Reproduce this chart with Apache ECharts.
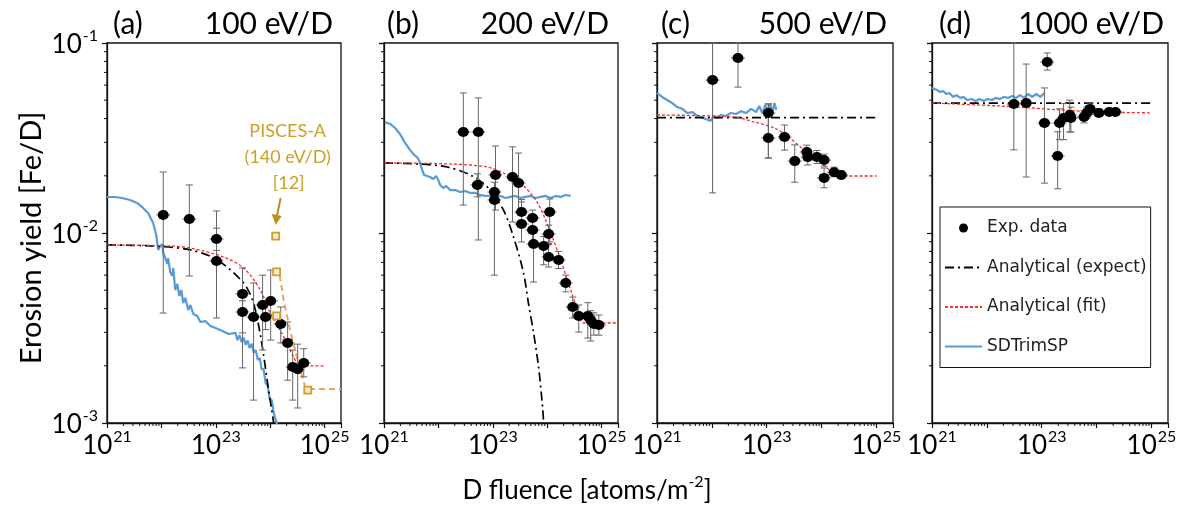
<!DOCTYPE html>
<html><head><meta charset="utf-8">
<script src="https://cdn.jsdelivr.net/npm/echarts@6/dist/echarts.min.js"></script>
<style>html,body{margin:0;padding:0;background:#fff}#c{width:1192px;height:513px}</style>
</head><body><div id="c"></div>
<script>
// ---------- text ----------
const panelLabels = ['(a)', '(b)', '(c)', '(d)'];
const panelEnergies = ['100 eV/D', '200 eV/D', '500 eV/D', '1000 eV/D'];
const xTickExponents = [21, 23, 25];
const yTickExponents = [-3, -2, -1];
const xTitle = 'D fluence [atoms/m';
const yTitle = 'Erosion yield [Fe/D]';
const legendNames = ['Exp. data', 'Analytical (expect)', 'Analytical (fit)', 'SDTrimSP'];
const piscesText = ['PISCES-A', '(140 eV/D)', '[12]'];

// ---------- panel (a) 100 eV/D ----------
const sdA_X = [1e21,1.41e21,1.89e21,2.66e21,3.57e21,4.61e21,5.7e21,7.06e21,8.02e21,8.73e21,9.5e21,1.035e22,1.08e22,1.175e22,1.28e22,1.33e22,1.45e22,1.58e22,1.65e22,1.8e22,1.96e22,2.13e22,2.32e22,2.52e22,2.75e22,3.12e22,3.4e22,3.86e22,4.57e22,5.2e22,6.43e22,7.94e22,9.84e22,1.32e23,1.71e23,2.3e23,2.5e23,2.72e23,2.97e23,3.23e23,3.52e23,3.84e23,4.18e23,4.56e23,4.97e23,5.42e23,5.9e23,6.43e23,6.94e23,7.56e23,8.24e23,8.96e23,9.77e23,1.065e24,1.16e24,1.26e24,1.37e24];
const sdA_Y = [0.01547,0.01547,0.01528,0.01492,0.01439,0.01355,0.01274,0.01129,0.00976,0.00814,0.00855,0.00875,0.00785,0.00738,0.00687,0.00738,0.00624,0.00594,0.00655,0.00501,0.0054,0.00466,0.00501,0.00428,0.00455,0.00393,0.00418,0.00375,0.00366,0.0034,0.00344,0.00324,0.00316,0.00305,0.00294,0.00298,0.00273,0.0029,0.00267,0.00282,0.00258,0.00272,0.00248,0.00261,0.00235,0.00242,0.00215,0.0022,0.00192,0.00192,0.00162,0.00158,0.00134,0.00132,0.00113,0.00111,0.00096];
const expectA_X = [1e21,6.2e21,3.4e22,1.07e23,3.24e23,4.73e23,6.1e23,7.55e23,9.34e23,1.16e24];
const expectA_Y = [0.00865,0.00855,0.00815,0.00721,0.00546,0.00443,0.00328,0.00228,0.00149,0.001];
const fitA_X = [1e21,1.45e22,3.4e22,1.38e23,3.24e23,6.6e23,1e24,1.77e24,2.7e24,3.6e24,1e25];
const fitA_Y = [0.00865,0.00855,0.00834,0.00748,0.00655,0.00501,0.00379,0.00284,0.00222,0.002,0.002];
const expA_X = [1.08e22,3.26e22,1.03e23,1.03e23,3.1e23,3.1e23,4.94e23,7.24e23,1.02e24,8.2e23,1.56e24,2.09e24,2.59e24,3.2e24,4.13e24];
const expA_Y = [0.01245,0.01186,0.00929,0.00713,0.00478,0.00384,0.00361,0.00418,0.00439,0.00361,0.00332,0.00264,0.00197,0.00192,0.00207];
const expA_Lo = [0.00379,0.00594,0.0081,0.00357,0.00195,0.00298,0.00132,0.00242,0.00273,0.0031,0.00264,0.00168,0.00132,0.0012,0.00175];
const expA_Hi = [0.02094,0.0179,0.01306,0.0106,0.00655,0.0044,0.00546,0.006,0.00638,0.0044,0.00408,0.0034,0.00242,0.0026,0.00246];
const piscesX = [1.26e24,1.31e24,1.31e24,4.9e24];
const piscesY = [0.00964,0.00624,0.00366,0.00149];
const piscesLineX = [1.49e24,1.77e24,2.38e24,3.2e24,4.5e24,2e25];
const piscesLineY = [0.006,0.00443,0.00298,0.00215,0.00151,0.00151];

// ---------- panel (b) 200 eV/D ----------
const sdB_X = [1.04e21,1.29e21,1.6e21,1.97e21,2.44e21,3.02e21,3.58e21,4.06e21,4.61e21,5.02e21,5.47e21,6.21e21,7.06e21,8.02e21,9.1e21,9.91e21,1.08e22,1.23e22,1.39e22,1.65e22,2.04e22,2.52e22,3.12e22,3.86e22,4.77e22,5.9e22,7.3e22,9.0e22,1.12e23,1.38e23,1.71e23,2.11e23,2.61e23,3.23e23,3.99e23,4.94e23,6.1e23,7.55e23,9.33e23,1.16e24,1.43e24,1.77e24,2.18e24,2.7e24];
const sdB_Y = [0.0384,0.0375,0.0357,0.0332,0.0298,0.0273,0.0258,0.0251,0.0234,0.0215,0.0202,0.01995,0.01971,0.01923,0.01995,0.019,0.0179,0.01725,0.01767,0.01683,0.01683,0.01643,0.01663,0.01625,0.01625,0.01585,0.01567,0.01567,0.01548,0.01567,0.01528,0.01548,0.01567,0.01528,0.01548,0.01567,0.01528,0.01548,0.01567,0.01528,0.01567,0.01548,0.01585,0.01567];
const expectB_X = [1e21,4.6e21,1.45e22,3.86e22,7.94e22,1.57e23,2.4e23,3.67e23,4.54e23,5.62e23,6.94e23,8.22e23,8.6e23];
const expectB_Y = [0.0234,0.02305,0.02225,0.0202,0.01746,0.0132,0.00953,0.00617,0.00423,0.00298,0.00197,0.00121,0.001];
const fitB_X = [1e21,1.88e22,7.94e22,1.57e23,3.24e23,6.65e23,1.16e24,1.77e24,2.7e24,3.63e24,4.68e24,2e25];
const fitB_Y = [0.0234,0.02305,0.02225,0.0207,0.01833,0.0144,0.01,0.00721,0.00501,0.00393,0.00336,0.00336];
const expB_X = [2.87e22,5.42e22,5.2e22,1.12e23,1.07e23,1.07e23,2.3e23,2.97e23,3.37e23,3.37e23,5.38e23,5.38e23,5.61e23,1.11e24,1.06e24,8.59e23,1.06e24,1.62e24,2.19e24,2.94e24,3.8e24,5.56e24,6.3e24,7.2e24,8.9e24];
const expB_Y = [0.034,0.034,0.0179,0.0202,0.01643,0.01492,0.0197,0.01833,0.01291,0.01115,0.012,0.01038,0.00875,0.01291,0.00988,0.00855,0.00748,0.00721,0.00546,0.00408,0.00366,0.00366,0.00348,0.00332,0.00328];
const expB_Lo = [0.01403,0.00919,0.0155,0.0132,0.015,0.006,0.01143,0.0128,0.0111,0.00897,0.0104,0.009,0.00552,0.00897,0.0088,0.0068,0.00662,0.0065,0.0049,0.00357,0.00301,0.0028,0.0027,0.0029,0.0029];
const expB_Hi = [0.0546,0.0514,0.0205,0.0287,0.0185,0.017,0.0284,0.02636,0.015,0.01456,0.0132,0.0115,0.0101,0.0151,0.011,0.0096,0.0087,0.008,0.006,0.0046,0.00418,0.0043,0.0039,0.0038,0.0037];

// ---------- panel (c) 500 eV/D ----------
const sdC_X = [1e21,1.24e21,1.53e21,1.89e21,2.34e21,2.89e21,3.58e21,4.43e21,5.47e21,6.21e21,7.69e21,9.5e21,1.08e22,1.28e22,1.45e22,1.8e22,2.22e22,2.75e22,3.4e22,4.21e22,5.2e22,6.43e22,7.3e22,8.3e22,9.42e22,1.07e23,1.16e23,1.27e23,1.38e23,1.5e23];
const sdC_Y = [0.0546,0.052,0.0501,0.0483,0.046,0.045,0.0428,0.0433,0.0413,0.0408,0.0398,0.0389,0.0413,0.0403,0.0418,0.0413,0.0428,0.0423,0.0438,0.0428,0.045,0.0433,0.0466,0.0428,0.0472,0.0433,0.0477,0.0428,0.0483,0.0444];
const expectC_X = [1e21,1e25];
const expectC_Y = [0.0405,0.0405];
const fitC_X = [1e21,2.5e22,5.9e22,1.38e23,2.5e23,4.35e23,7.55e23,1.37e24,2.38e24,1e25];
const fitC_Y = [0.0418,0.0408,0.0384,0.0357,0.032,0.028,0.0251,0.0215,0.01995,0.01995];
const expC_X = [1.03e22,2.99e22,1.07e23,1.07e23,2.11e23,3.24e23,5.37e23,5.6e23,8.2e23,1.11e24,1.11e24,1.69e24,2.28e24];
const expC_Y = [0.0638,0.0834,0.0428,0.0316,0.032,0.0239,0.0267,0.0251,0.0251,0.0242,0.0195,0.0209,0.0202];
const expC_Lo = [0.01626,0.0586,0.0248,0.0248,0.0273,0.0185,0.024,0.0228,0.0232,0.0225,0.0173,0.0198,0.0193];
const expC_Hi = [0.1,0.1,0.0478,0.0478,0.037,0.0291,0.029,0.0275,0.0272,0.026,0.022,0.0222,0.0212];

// ---------- panel (d) 1000 eV/D ----------
const sdD_X = [1e21,1.24e21,1.41e21,1.6e21,1.81e21,2.06e21,2.44e21,2.77e21,3.29e21,3.73e21,4.43e21,5.25e21,6.21e21,7.36e21,8.73e21,1.035e22,1.23e22,1.45e22,1.72e22,2.04e22,2.42e22,2.87e22,3.4e22,4.03e22,4.77e22,5.66e22,6.71e22,7.95e22,9.42e22,1.12e23];
const sdD_Y = [0.058,0.0566,0.0552,0.0559,0.0539,0.0546,0.052,0.0532,0.0514,0.052,0.0501,0.0507,0.0495,0.0507,0.0495,0.0507,0.0501,0.0514,0.0507,0.052,0.0514,0.0526,0.0514,0.0532,0.0514,0.0539,0.052,0.0539,0.052,0.0546];
const expectD_X = [1e21,1e25];
const expectD_Y = [0.0483,0.0483];
const fitD_X = [1e21,1.78e22,2.3e23,1.26e24,1e25];
const fitD_Y = [0.0483,0.0466,0.0444,0.0433,0.0429];
const expD_X = [3.1e22,5.2e22,1.26e23,1.12e23,1.95e23,2.11e23,2.5e23,3.24e23,3.4e23,5.9e23,6.6e23,7.6e23,1.1e24,1.7e24,2.2e24];
const expD_Y = [0.0477,0.0483,0.0794,0.0379,0.0254,0.0379,0.0403,0.0418,0.0403,0.0408,0.0428,0.045,0.0428,0.0433,0.0433];
const expD_Lo = [0.0274,0.0197,0.072,0.0183,0.0171,0.031,0.031,0.034,0.034,0.038,0.04,0.042,0.041,0.042,0.042];
const expD_Hi = [0.1,0.0775,0.0886,0.058,0.0341,0.045,0.048,0.05,0.046,0.044,0.046,0.0483,0.045,0.045,0.045];

// ---------- axis ranges ----------
const X_MIN = 1e21, X_MAX = 2e25, Y_MIN = 1e-3, Y_MAX = 1e-1;

// ---------- build ----------
const panels = [
  {sdX: sdA_X, sdY: sdA_Y, exX: expectA_X, exY: expectA_Y, fX: fitA_X, fY: fitA_Y, pX: expA_X, pY: expA_Y, lo: expA_Lo, hi: expA_Hi},
  {sdX: sdB_X, sdY: sdB_Y, exX: expectB_X, exY: expectB_Y, fX: fitB_X, fY: fitB_Y, pX: expB_X, pY: expB_Y, lo: expB_Lo, hi: expB_Hi},
  {sdX: sdC_X, sdY: sdC_Y, exX: expectC_X, exY: expectC_Y, fX: fitC_X, fY: fitC_Y, pX: expC_X, pY: expC_Y, lo: expC_Lo, hi: expC_Hi},
  {sdX: sdD_X, sdY: sdD_Y, exX: expectD_X, exY: expectD_Y, fX: fitD_X, fY: fitD_Y, pX: expD_X, pY: expD_Y, lo: expD_Lo, hi: expD_Hi}
];
const gridLeft = [107, 384, 657, 932];
const gridWidth = [234, 234, 236, 236];

const xMinor = [];
for (let e = 21; e <= 24; e++) for (let m = 2; m <= 9; m++) xMinor.push(m * Math.pow(10, e));
const yMinor = [];
for (let e = -3; e <= -2; e++) for (let m = 2; m <= 9; m++) yMinor.push(m * Math.pow(10, e));

const zip = (a, b) => a.map((v, i) => [v, b[i]]);
const FONT = 'Lato';
const BLACK = '#000';

function isExp(v, list) {
  const l = Math.log10(v), e = Math.round(l);
  return Math.abs(l - e) < 1e-6 && list.indexOf(e) >= 0 ? e : null;
}
const richTick = {
  b: {fontFamily: FONT, fontSize: 26, color: BLACK, lineHeight: 30, verticalAlign: 'bottom'},
  s: {fontFamily: FONT, fontSize: 16, color: BLACK, lineHeight: 30, verticalAlign: 'top', padding: [0, 0, 0, 1]}
};

const grids = [], xAxes = [], yAxes = [], series = [];
panels.forEach((p, i) => {
  grids.push({left: gridLeft[i], width: gridWidth[i], top: 43, height: 380, show: true,
    borderColor: '#111', borderWidth: 1.3, backgroundColor: '#fff', containLabel: false});
  xAxes.push({type: 'log', logBase: 10, gridIndex: i, min: X_MIN, max: X_MAX, splitNumber: 4,
    splitLine: {show: false},
    axisLine: {show: true, lineStyle: {color: '#111', width: 1.3}},
    axisTick: {show: true, inside: false, length: 5, lineStyle: {color: '#111', width: 1.2}},
    axisLabel: {margin: 6, formatter: v => { const e = isExp(v, xTickExponents); return e === null ? '' : '{b|10}{s|' + e + '}'; }, rich: richTick}
  });
  yAxes.push({type: 'log', logBase: 10, gridIndex: i, min: Y_MIN, max: Y_MAX, splitNumber: 2,
    splitLine: {show: false},
    axisLine: {show: true, lineStyle: {color: '#111', width: 1.3}},
    axisTick: {show: true, inside: false, length: 5, lineStyle: {color: '#111', width: 1.2}},
    axisLabel: {show: i === 0, margin: 9, formatter: v => { const e = isExp(v, yTickExponents); return e === null ? '' : '{b|10}{s|' + e + '}'; }, rich: richTick}
  });
  const ax = {xAxisIndex: i, yAxisIndex: i};
  // minor ticks
  series.push(Object.assign({type: 'custom', silent: true, z: 1, data: xMinor.map(v => [v, Y_MIN]),
    renderItem: (params, api) => { const c = api.coord([api.value(0), api.value(1)]);
      return {type: 'line', shape: {x1: c[0], y1: c[1], x2: c[0], y2: c[1] + 3}, style: {stroke: '#111', lineWidth: 1}}; }}, ax));
  series.push(Object.assign({type: 'custom', silent: true, z: 1, data: yMinor.map(v => [X_MIN, v]),
    renderItem: (params, api) => { const c = api.coord([api.value(0), api.value(1)]);
      return {type: 'line', shape: {x1: c[0] - 3, y1: c[1], x2: c[0], y2: c[1]}, style: {stroke: '#111', lineWidth: 1}}; }}, ax));
  // SDTrimSP
  series.push(Object.assign({type: 'line', name: 'SDTrimSP', data: zip(p.sdX, p.sdY), symbol: 'none', z: 2,
    lineStyle: {color: '#5B9BD5', width: 2.2}, itemStyle: {color: '#5B9BD5'}}, ax));
  // analytical expect
  series.push(Object.assign({type: 'line', name: 'Analytical (expect)', data: zip(p.exX, p.exY), symbol: 'none', smooth: 0.3, z: 3,
    lineStyle: {color: BLACK, width: 1.7, type: [9, 4, 2, 4]}, itemStyle: {color: BLACK}}, ax));
  // analytical fit
  series.push(Object.assign({type: 'line', name: 'Analytical (fit)', data: zip(p.fX, p.fY), symbol: 'none', smooth: 0.3, z: 3,
    lineStyle: {color: '#FF2A2A', width: 1.3, type: [3, 2]}, itemStyle: {color: '#FF2A2A'}}, ax));
  // error bars
  series.push(Object.assign({type: 'custom', silent: true, z: 4,
    data: p.pX.map((x, k) => [x, p.pY[k], p.lo[k], p.hi[k]]),
    encode: {x: 0, y: 1},
    renderItem: (params, api) => {
      const x = api.value(0);
      const c = api.coord([x, api.value(1)]);
      const lo = api.coord([x, api.value(2)]);
      const hi = api.coord([x, api.value(3)]);
      const st = {stroke: '#666', lineWidth: 1};
      return {type: 'group', children: [
        {type: 'line', shape: {x1: c[0], y1: hi[1], x2: c[0], y2: lo[1]}, style: st},
        {type: 'line', shape: {x1: c[0] - 3.5, y1: hi[1], x2: c[0] + 3.5, y2: hi[1]}, style: st},
        {type: 'line', shape: {x1: c[0] - 3.5, y1: lo[1], x2: c[0] + 3.5, y2: lo[1]}, style: st},
        {type: 'line', shape: {x1: c[0] - 7, y1: c[1], x2: c[0] + 7, y2: c[1]}, style: st}
      ]};
    }}, ax));
  // experimental points
  series.push(Object.assign({type: 'scatter', name: 'Exp. data', data: zip(p.pX, p.pY), symbol: 'circle', symbolSize: [11, 10], z: 5,
    itemStyle: {color: BLACK, opacity: 1}}, ax));
});

// PISCES-A (panel a)
const axA = {xAxisIndex: 0, yAxisIndex: 0};
series.push(Object.assign({type: 'line', name: 'PISCES-A line', data: zip(piscesLineX, piscesLineY), symbol: 'none', z: 3,
  lineStyle: {color: '#F4A261', width: 2, type: [6, 4]}}, axA));
series.push(Object.assign({type: 'scatter', name: 'PISCES-A', data: zip(piscesX, piscesY), symbol: 'rect', symbolSize: 7, z: 6,
  itemStyle: {color: '#ECE8F4', borderColor: '#D4A017', borderWidth: 1.8, opacity: 1}}, axA));
series.push(Object.assign({type: 'custom', silent: true, z: 7, data: [[piscesX[0], piscesY[0]]],
  renderItem: (params, api) => {
    const c = api.coord([api.value(0), api.value(1)]);
    const gold = '#C9A227';
    const tf = {font: '18px ' + FONT, fill: gold, align: 'center', verticalAlign: 'middle'};
    return {type: 'group', children: [
      {type: 'text', x: c[0] + 12, y: c[1] - 105, style: Object.assign({text: piscesText[0]}, tf)},
      {type: 'text', x: c[0] + 12, y: c[1] - 79, style: Object.assign({text: piscesText[1]}, tf)},
      {type: 'text', x: c[0] + 13, y: c[1] - 53, style: Object.assign({text: piscesText[2]}, tf)},
      {type: 'line', shape: {x1: c[0] + 5, y1: c[1] - 38, x2: c[0] + 1, y2: c[1] - 19}, style: {stroke: '#B8911E', lineWidth: 2}},
      {type: 'polygon', shape: {points: [[c[0] - 4, c[1] - 22], [c[0] + 6, c[1] - 20], [c[0], c[1] - 11]]}, style: {fill: '#B8911E'}}
    ]};
  }}, axA));

// header & axis titles
const graphic = [];
const headerRight = [333, 609, 887, 1164];
const headerLeft = [113, 387, 661, 939];
panelLabels.forEach((t, i) => {
  graphic.push({type: 'text', x: headerLeft[i], y: 24, style: {text: t, font: '30px ' + FONT, fill: BLACK, align: 'left', verticalAlign: 'middle'}});
  graphic.push({type: 'text', x: headerRight[i], y: 24, style: {text: panelEnergies[i], font: '30px ' + FONT, fill: BLACK, align: 'right', verticalAlign: 'middle'}});
});
graphic.push({type: 'text', x: 587, y: 489, style: {
  text: '{t|' + xTitle + '}{s|-2}{t|]}', align: 'center', verticalAlign: 'middle',
  rich: {t: {fontFamily: FONT, fontSize: 26, fill: BLACK, lineHeight: 30, verticalAlign: 'bottom'},
         s: {fontFamily: FONT, fontSize: 16, fill: BLACK, lineHeight: 30, verticalAlign: 'top'}}}});
graphic.push({type: 'text', x: 32, y: 238, rotation: Math.PI / 2, style: {text: yTitle, font: '29px ' + FONT, fill: BLACK, align: 'center', verticalAlign: 'middle'}});

const option = {
  animation: false,
  backgroundColor: '#fff',
  grid: grids, xAxis: xAxes, yAxis: yAxes, series: series, graphic: graphic,
  legend: {
    data: [
      {name: legendNames[0], itemStyle: {opacity: 1}},
      {name: legendNames[1], itemStyle: {opacity: 0}},
      {name: legendNames[2], itemStyle: {opacity: 0}},
      {name: legendNames[3], itemStyle: {opacity: 0}}
    ],
    orient: 'vertical', left: 940, top: 207,
    backgroundColor: '#fff', borderColor: '#111', borderWidth: 1, borderRadius: 0,
    padding: [11, 4, 11, 4], itemGap: 19.5, itemWidth: 37, itemHeight: 9,
    selectedMode: false,
    textStyle: {fontFamily: 'DejaVu Sans', fontSize: 17, color: '#222', lineHeight: 20}
  }
};
const chart = echarts.init(document.getElementById('c'), null, {renderer: 'canvas'});
chart.setOption(option);
</script>
</body></html>
